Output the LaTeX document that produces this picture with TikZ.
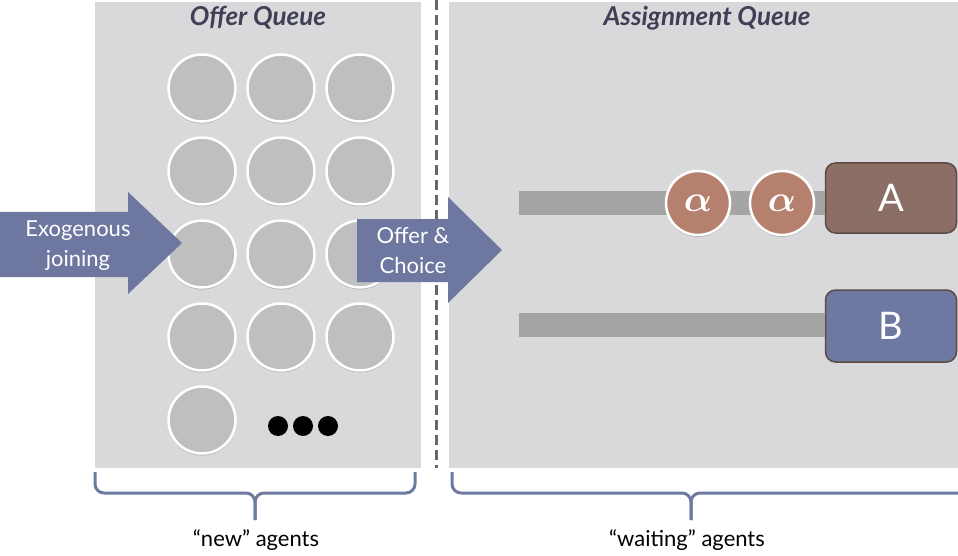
\documentclass[tikz,border=0pt]{standalone}
\usepackage{fontspec}
\usepackage{graphicx}
\setmainfont{Lato}
\usetikzlibrary{shadows}

\definecolor{panel}{HTML}{D9D9DB}
\definecolor{token}{HTML}{BFBFBF}
\definecolor{slate}{HTML}{6E77A0}
\definecolor{barfill}{HTML}{A5A5A5}
\definecolor{afill}{HTML}{8B6F66}
\definecolor{aedge}{HTML}{5E4A44}
\definecolor{bfill}{HTML}{6E79A2}
\definecolor{alphafill}{HTML}{B6806E}
\definecolor{titletext}{HTML}{3F3F55}
\definecolor{dashgray}{HTML}{666666}
\definecolor{bracecol}{HTML}{6E7AA0}

\newcommand{\bigalpha}{\scalebox{3.7}{\boldmath$\alpha$}}

\begin{document}
\begin{tikzpicture}[x=1pt,y=-1pt,
  agent/.style={circle, minimum size=67pt, inner sep=0pt, fill=token,
    draw=white, line width=2.5pt,
    drop shadow={shadow xshift=0pt, shadow yshift=-2pt, opacity=0.3, fill=black!70}},
  alphatoken/.style={circle, minimum size=64pt, inner sep=0pt, fill=alphafill,
    draw=white, line width=2.5pt, text=white,
    drop shadow={shadow xshift=0pt, shadow yshift=-2pt, opacity=0.3, fill=black!70}},
  dotmark/.style={circle, minimum size=20pt, inner sep=0pt, fill=black},
  server/.style={rectangle, rounded corners=10pt, minimum width=131pt,
    inner sep=0pt, draw=aedge, line width=1.5pt, text=white,
    font=\fontsize{38}{40}\selectfont},
  queuebar/.style={barfill, line width=24pt},
  bigarrow/.style={fill=slate},
  arrowtext/.style={text=white, align=center, font=\fontsize{22}{30}\selectfont},
  paneltitle/.style={text=titletext, font=\fontsize{26}{28}\selectfont\bfseries\itshape},
  bracepath/.style={draw=bracecol, line width=3pt, rounded corners=9pt},
  bracelabel/.style={text=black, font=\fontsize{22}{26}\selectfont}
]
\useasboundingbox (0,0) rectangle (958,556);

% the two queue panels
\fill[panel] (95,2) rectangle (421,468);
\fill[panel] (449,2) rectangle (958,468);

% separator between the panels
\coordinate (septop) at (436,0);
\coordinate (sepbot) at (436,468);
\draw[dashgray, line width=3pt, dash pattern=on 10pt off 5pt] (septop) -- (sepbot);

% panel titles
\node[paneltitle] (offertitle) at (258,18) {Offer Queue};
\node[paneltitle] (assigntitle) at (707,18) {Assignment Queue};

% agents in the offer queue
\foreach \r/\y in {1/88,2/171,3/254,4/337}{
  \foreach \c/\x in {1/202,2/281,3/360}{
    \node[agent] (ag-\r-\c) at (\x,\y) {};
  }
}
\node[agent] (ag-5-1) at (202,420) {};
\node[dotmark] (dot1) at (278,426) {};
\node[dotmark] (dot2) at (303,426) {};
\node[dotmark] (dot3) at (328,426) {};

% exogenous joining arrow
\path[bigarrow] (0,212) -- (128,212) -- (128,192) -- (182,243) -- (128,294)
  -- (128,277) -- (0,277) -- cycle;
\node[arrowtext] (exo) at (78,246) {Exogenous\\joining};

% offer and choice arrow
\path[bigarrow] (357,219) -- (448,219) -- (448,197) -- (502,250) -- (448,303)
  -- (448,282) -- (357,282) -- cycle;
\node[arrowtext] (offer) at (413,251) {Offer \&\\Choice};

% servers of the assignment queue
\node[server, fill=afill, minimum height=70pt] (A) at (891,198) {A};
\node[server, fill=bfill, minimum height=72pt] (B) at (891,326) {B};

% queue lines leading to the servers
\coordinate (lineA) at (519,203);
\coordinate (lineB) at (519,325);
\draw[queuebar] (lineA) -- (A.west |- lineA);
\draw[queuebar] (lineB) -- (B.west |- lineB);

% waiting agents of type alpha
\node[alphatoken] (w1) at (698,203) {\bigalpha};
\node[alphatoken] (w2) at (782,203) {\bigalpha};

% braces under the panels
\draw[bracepath] (95,472) -- (95,493) -- (255,493) -- (255,520);
\draw[bracepath] (255,520) -- (255,493) -- (415,493) -- (415,472);
\draw[bracepath] (452,472) -- (452,493) -- (691,493) -- (691,520);
\draw[bracepath] (691,520) -- (691,493) -- (962,493);

\node[bracelabel] (newlabel) at (256,540) {``new'' agents};
\node[bracelabel] (waitlabel) at (687,540) {``waiting'' agents};
\end{tikzpicture}
\end{document}
